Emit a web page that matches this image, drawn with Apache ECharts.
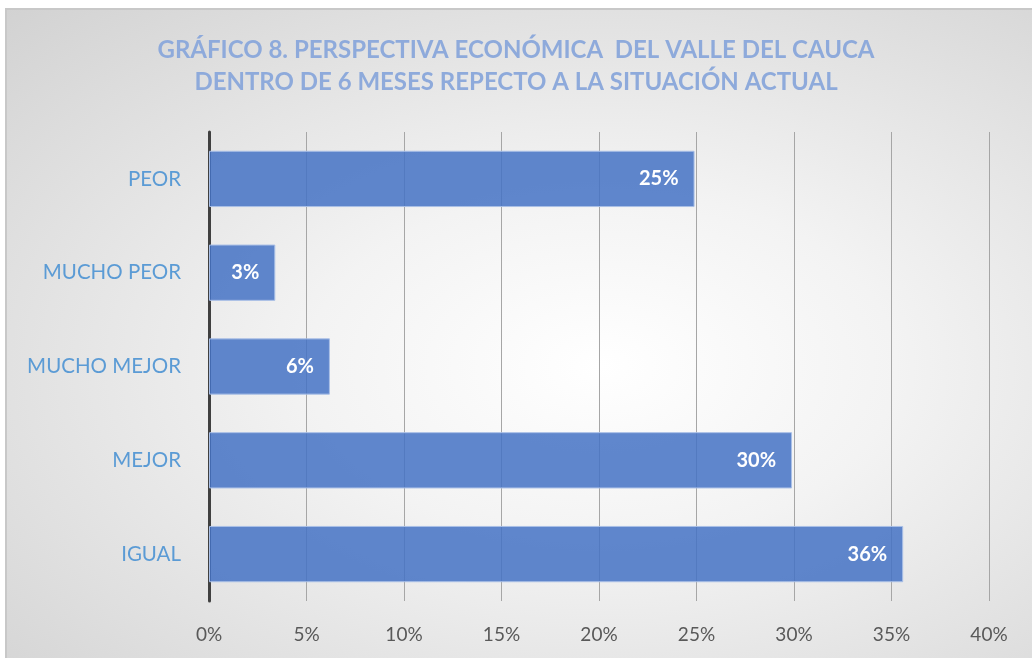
<!DOCTYPE html>
<html>
<head>
<meta charset="utf-8">
<script src="https://cdn.jsdelivr.net/npm/echarts@6/dist/echarts.min.js"></script>
<style>
  html, body { margin: 0; padding: 0; background: #fff; }
  #frame {
    position: absolute; left: 5px; top: 8px; width: 1027px; height: 650px;
    border-left: 2px solid #c8c8c8; border-top: 2px solid #c8c8c8;
    box-sizing: border-box;
    background: radial-gradient(ellipse at 58% 55%, #ffffff 0%, #f3f3f3 35%, #d2d2d2 100%);
  }
  #chart { position: absolute; left: 0; top: 0; width: 1032px; height: 658px; }
</style>
</head>
<body>
<div id="frame"></div>
<div id="chart"></div>
<script>
// categorías de abajo hacia arriba
let categorias = ['IGUAL', 'MEJOR', 'MUCHO MEJOR', 'MUCHO PEOR', 'PEOR'];
let valores = [35.6, 29.9, 6.2, 3.4, 24.9];
let etiquetas = ['36%', '30%', '6%', '3%', '25%'];

var myChart = echarts.init(document.getElementById('chart'));

let option = {
    backgroundColor: 'transparent',
    title: {
        text: 'GRÁFICO 8. PERSPECTIVA ECONÓMICA  DEL VALLE DEL CAUCA\nDENTRO DE 6 MESES REPECTO A LA SITUACIÓN ACTUAL',
        left: 'center',
        top: 29,
        textStyle: {
            fontSize: 24,
            fontWeight: 'bold',
            fontFamily: 'Lato',
            color: '#8eaadb',
            lineHeight: 32
        }
    },
    grid: {
        left: 209,
        right: 43,
        top: 132,
        bottom: 57
    },
    xAxis: {
        type: 'value',
        min: 0,
        max: 40,
        interval: 5,
        axisLine: { show: false },
        axisTick: { show: false },
        axisLabel: {
            formatter: '{value}%',
            color: '#595959',
            fontSize: 19,
            fontFamily: 'Lato',
            margin: 24
        },
        splitLine: { show: true, lineStyle: { color: '#a6a6a6', width: 1 } }
    },
    yAxis: {
        type: 'category',
        data: categorias,
        axisLine: { show: true, lineStyle: { color: '#404040', width: 3 } },
        axisTick: { show: false },
        axisLabel: {
            color: '#5b9bd5',
            fontSize: 20.5,
            fontFamily: 'Lato',
            margin: 28
        }
    },
    series: [{
        type: 'bar',
        data: valores,
        barWidth: '60%',
        itemStyle: {
            color: 'rgba(68, 114, 196, 0.85)',
            borderColor: '#a9bfe6',
            borderWidth: 1
        },
        label: {
            show: true,
            position: 'insideRight',
            distance: 16,
            color: '#ffffff',
            fontWeight: 'bold',
            fontSize: 20,
            fontFamily: 'Lato',
            formatter: function (p) {
                return etiquetas[p.dataIndex];
            }
        }
    }]
};

myChart.setOption(option);
</script>
</body>
</html>
